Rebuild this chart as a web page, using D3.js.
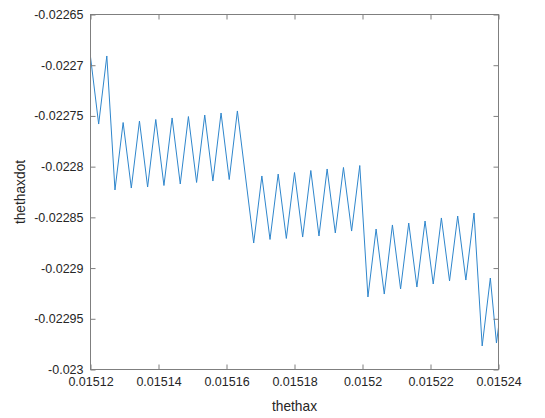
<!DOCTYPE html>
<html>
<head>
<meta charset="utf-8">
<script src="https://cdn.jsdelivr.net/npm/d3@7"></script>
<style>
  html, body { margin: 0; padding: 0; background: #fff; }
  svg { display: block; }
  text { font-family: "Liberation Sans", Arial, Helvetica, sans-serif; fill: #262626; }
</style>
</head>
<body>
<svg id="chart" width="545" height="418"></svg>
<script>
// ---- data ----
const thethax = [
  0.0151200, 0.0151224, 0.0151248, 0.0151272, 0.0151296, 0.0151320, 0.0151344, 0.0151368,
  0.0151392, 0.0151416, 0.0151440, 0.0151464, 0.0151488, 0.0151512, 0.0151536, 0.0151560,
  0.0151584, 0.0151608, 0.0151632, 0.0151656, 0.0151680, 0.0151704, 0.0151728, 0.0151752,
  0.0151776, 0.0151800, 0.0151824, 0.0151848, 0.0151872, 0.0151896, 0.0151920, 0.0151944,
  0.0151968, 0.0151992, 0.0152016, 0.0152040, 0.0152064, 0.0152088, 0.0152112, 0.0152136,
  0.0152160, 0.0152184, 0.0152208, 0.0152232, 0.0152256, 0.0152280, 0.0152304, 0.0152328,
  0.0152352, 0.0152376, 0.0152394, 0.0152418
];
const thethaxdot = [
  -0.0226919, -0.0227580, -0.0226909, -0.0228230, -0.0227565, -0.0228211, -0.0227550, -0.0228201,
  -0.0227535, -0.0228186, -0.0227520, -0.0228171, -0.0227506, -0.0228156, -0.0227491, -0.0228142,
  -0.0227471, -0.0228127, -0.0227451, -0.0228102, -0.0228753, -0.0228092, -0.0228718, -0.0228073,
  -0.0228708, -0.0228058, -0.0228694, -0.0228038, -0.0228684, -0.0228023, -0.0228654, -0.0228008,
  -0.0228635, -0.0227989, -0.0229285, -0.0228615, -0.0229256, -0.0228575, -0.0229206, -0.0228556,
  -0.0229187, -0.0228536, -0.0229157, -0.0228506, -0.0229127, -0.0228487, -0.0229118, -0.0228457,
  -0.0229768, -0.0229098, -0.0229739, -0.0229118
];
const xTicks = [0.01512, 0.01514, 0.01516, 0.01518, 0.0152, 0.01522, 0.01524];
const yTicks = [-0.023, -0.02295, -0.0229, -0.02285, -0.0228, -0.02275, -0.0227, -0.02265];
const xDomain = [0.01512, 0.01524];
const yDomain = [-0.023, -0.02265];
const xLabel = "thethax";
const yLabel = "thethaxdot";

// ---- layout ----
const L = 90.5, R = 498.5, T = 14.5, B = 369.5;
const svg = d3.select("#chart");
svg.append("rect").attr("width", 545).attr("height", 418).attr("fill", "#fff");

const x = d3.scaleLinear().domain(xDomain).range([L, R]);
const y = d3.scaleLinear().domain(yDomain).range([B, T]);

svg.append("defs").append("clipPath").attr("id", "clip")
  .append("rect").attr("x", L).attr("y", T).attr("width", R - L).attr("height", B - T);

// line
const pts = thethax.map((d, i) => [d, thethaxdot[i]]);
svg.append("path")
  .datum(pts)
  .attr("clip-path", "url(#clip)")
  .attr("fill", "none")
  .attr("stroke", "#2f86cc")
  .attr("stroke-width", 1)
  .attr("stroke-linejoin", "round")
  .attr("d", d3.line().x(d => x(d[0])).y(d => y(d[1])));

const axisColor = "#7f7f7f";
function styleAxis(g) {
  g.select(".domain").remove();
  g.selectAll(".tick line").attr("stroke", axisColor);
  g.selectAll(".tick text").attr("fill", "#262626")
    .style("font-family", '"Liberation Sans", Arial, sans-serif')
    .style("font-size", "12.5px");
}

svg.append("g").attr("transform", `translate(0,${B})`)
  .call(d3.axisBottom(x).tickValues(xTicks).tickSizeInner(-5).tickSizeOuter(0)
    .tickPadding(8).tickFormat(d => String(d)))
  .call(styleAxis);
svg.append("g").attr("transform", `translate(0,${T})`)
  .call(d3.axisTop(x).tickValues(xTicks).tickSizeInner(-5).tickSizeOuter(0).tickFormat(""))
  .call(styleAxis);
svg.append("g").attr("transform", `translate(${L},0)`)
  .call(d3.axisLeft(y).tickValues(yTicks).tickSizeInner(-5).tickSizeOuter(0)
    .tickPadding(7).tickFormat(d => String(d)))
  .call(styleAxis);
svg.append("g").attr("transform", `translate(${R},0)`)
  .call(d3.axisRight(y).tickValues(yTicks).tickSizeInner(-5).tickSizeOuter(0).tickFormat(""))
  .call(styleAxis);

// box
svg.append("rect").attr("x", L).attr("y", T).attr("width", R - L).attr("height", B - T)
  .attr("fill", "none").attr("stroke", axisColor).attr("stroke-width", 1);

// labels
svg.append("text").attr("x", (L + R) / 2).attr("y", 410.5)
  .attr("text-anchor", "middle").style("font-size", "13.75px").text(xLabel);
svg.append("text").attr("transform", `translate(25,${(T + B) / 2}) rotate(-90)`)
  .attr("text-anchor", "middle").style("font-size", "13.75px").text(yLabel);
</script>
</body>
</html>
